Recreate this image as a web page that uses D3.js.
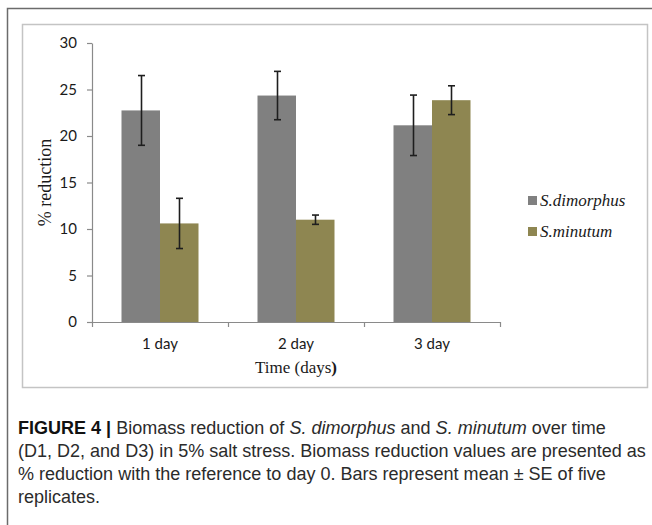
<!DOCTYPE html>
<html><head><meta charset="utf-8">
<script src="https://cdn.jsdelivr.net/npm/d3@7"></script>
<style>
html,body{margin:0;padding:0;background:#fff;}
svg{display:block;}
</style>
</head><body>
<svg id="chart" width="652" height="525"></svg>
<script>
const categories = ["1 day", "2 day", "3 day"];
const seriesNames = ["S.dimorphus", "S.minutum"];
const dimorphusMean = [22.75, 24.35, 21.15];
const dimorphusSE = [3.75, 2.6, 3.25];
const minutumMean = [10.6, 11.0, 23.85];
const minutumSE = [2.7, 0.5, 1.55];
const yTicks = [0, 5, 10, 15, 20, 25, 30];
const seriesColors = ["#808080", "#8e8651"];
const xTitle = "Time (days";
const yTitle = "% reduction";

const series = [
  {name: seriesNames[0], mean: dimorphusMean, se: dimorphusSE, color: seriesColors[0]},
  {name: seriesNames[1], mean: minutumMean, se: minutumSE, color: seriesColors[1]}
];

const svg = d3.select("#chart");

// outer figure frame (left + top)
svg.append("path").attr("d", "M7.5,525 V8.5 H652").attr("fill", "none")
  .attr("stroke", "#6b6b6b").attr("stroke-width", 1.5);
// chart area frame
svg.append("rect").attr("x", 22.5).attr("y", 24.5).attr("width", 625).attr("height", 363)
  .attr("fill", "none").attr("stroke", "#c4c4c4").attr("stroke-width", 1.5);

const plot = {left: 92, right: 500, top: 43, bottom: 322};

const x = d3.scaleBand().domain(categories).range([plot.left, plot.right]).padding(0);
const xs = d3.scaleBand().domain(seriesNames).range([0, x.bandwidth()]).paddingInner(0).paddingOuter(0.766);
const y = d3.scaleLinear().domain([0, 30]).range([plot.bottom, plot.top]);

const g = svg.append("g");

// bars
series.forEach(s => {
  g.selectAll(null).data(categories).enter().append("rect")
    .attr("x", c => x(c) + xs(s.name))
    .attr("width", xs.bandwidth())
    .attr("y", (c, i) => y(s.mean[i]))
    .attr("height", (c, i) => y(0) - y(s.mean[i]))
    .attr("fill", s.color);
});

// error bars
series.forEach(s => {
  const eg = g.append("g").attr("stroke", "#1e1e1e").attr("stroke-width", 1.6).attr("fill", "none");
  categories.forEach((c, i) => {
    const cx = Math.round(x(c) + xs(s.name) + xs.bandwidth() / 2) + 0.5;
    const y1 = y(s.mean[i] + s.se[i]), y2 = y(s.mean[i] - s.se[i]);
    eg.append("line").attr("x1", cx).attr("x2", cx).attr("y1", y1).attr("y2", y2);
    eg.append("line").attr("x1", cx - 3.5).attr("x2", cx + 3.5).attr("y1", y1).attr("y2", y1);
    eg.append("line").attr("x1", cx - 3.5).attr("x2", cx + 3.5).attr("y1", y2).attr("y2", y2);
  });
});

// y axis
const yAxis = svg.append("g").attr("transform", `translate(${plot.left},0)`)
  .call(d3.axisLeft(y).tickValues(yTicks).tickSize(5).tickSizeOuter(0).tickPadding(10).tickFormat(d3.format("d")));
yAxis.select(".domain").attr("stroke", "#8a8a8a").attr("stroke-width", 1.2);
yAxis.selectAll(".tick line").attr("stroke", "#8a8a8a").attr("stroke-width", 1.2);
yAxis.selectAll(".tick text").attr("font-family", "Lato, 'Open Sans', sans-serif")
  .attr("font-size", 15).attr("fill", "#1a1a1a");

// x axis
const xAxis = svg.append("g").attr("transform", `translate(0,${plot.bottom})`)
  .call(d3.axisBottom(x).tickSize(0).tickSizeOuter(0).tickPadding(16));
xAxis.select(".domain").attr("stroke", "#8a8a8a").attr("stroke-width", 1.2);
xAxis.selectAll(".tick text").attr("font-family", "Lato, 'Open Sans', sans-serif")
  .attr("font-size", 15).attr("fill", "#1a1a1a");
// boundary tick marks
const bounds = categories.map(c => x(c)).concat([x(categories[categories.length - 1]) + x.bandwidth()]);
xAxis.selectAll(".bt").data(bounds).enter().append("line")
  .attr("x1", d => Math.round(d) + 0.5).attr("x2", d => Math.round(d) + 0.5)
  .attr("y1", 0).attr("y2", 5).attr("stroke", "#8a8a8a").attr("stroke-width", 1.2);

// axis titles
const xt = svg.append("text").attr("x", (plot.left + plot.right) / 2).attr("y", 373)
  .attr("text-anchor", "middle").attr("font-family", "'Liberation Serif', 'Times New Roman', serif")
  .attr("font-size", 17).attr("fill", "#1a1a1a");
xt.append("tspan").text(xTitle);
xt.append("tspan").attr("font-weight", "bold").text(")");

svg.append("text").attr("transform", `translate(51,${(plot.top + plot.bottom) / 2}) rotate(-90)`)
  .attr("text-anchor", "middle").attr("font-family", "'Liberation Serif', 'Times New Roman', serif")
  .attr("font-size", 18).attr("fill", "#1a1a1a").text(yTitle);

// legend
const leg = svg.append("g").attr("transform", "translate(528,196)");
series.forEach((s, i) => {
  const row = leg.append("g").attr("transform", `translate(0,${i * 31})`);
  row.append("rect").attr("x", 0).attr("y", 0).attr("width", 9).attr("height", 9).attr("fill", s.color);
  row.append("text").attr("x", 12).attr("y", 9.5)
    .attr("font-family", "'Liberation Serif', 'Times New Roman', serif").attr("font-style", "italic")
    .attr("font-size", 17).attr("fill", "#1a1a1a").text(s.name);
});

// caption
const capLines = [
  [{t: "FIGURE 4 | ", b: true}, {t: "Biomass reduction of "}, {t: "S. dimorphus", i: true}, {t: " and "}, {t: "S. minutum", i: true}, {t: " over time"}],
  [{t: "(D1, D2, and D3) in 5% salt stress. Biomass reduction values are presented as"}],
  [{t: "% reduction with the reference to day 0. Bars represent mean \u00B1 SE of five"}],
  [{t: "replicates."}]
];
const cap = svg.append("g").attr("font-family", "'Liberation Sans', Arial, sans-serif").attr("fill", "#2b2b2b");
const capTexts = capLines.map((line, li) => {
  const t = cap.append("text").attr("x", 18).attr("y", 434 + li * 23);
  line.forEach(p => {
    const ts = t.append("tspan").text(p.t);
    if (p.b) ts.attr("font-weight", "bold").attr("fill", "#111");
    if (p.i) ts.attr("font-style", "italic");
  });
  return t;
});
// size caption so that the second line spans the measured width
cap.attr("font-size", 16);
const w = capTexts[1].node().getComputedTextLength();
cap.attr("font-size", 16 * 628 / w);
</script>
</body></html>
